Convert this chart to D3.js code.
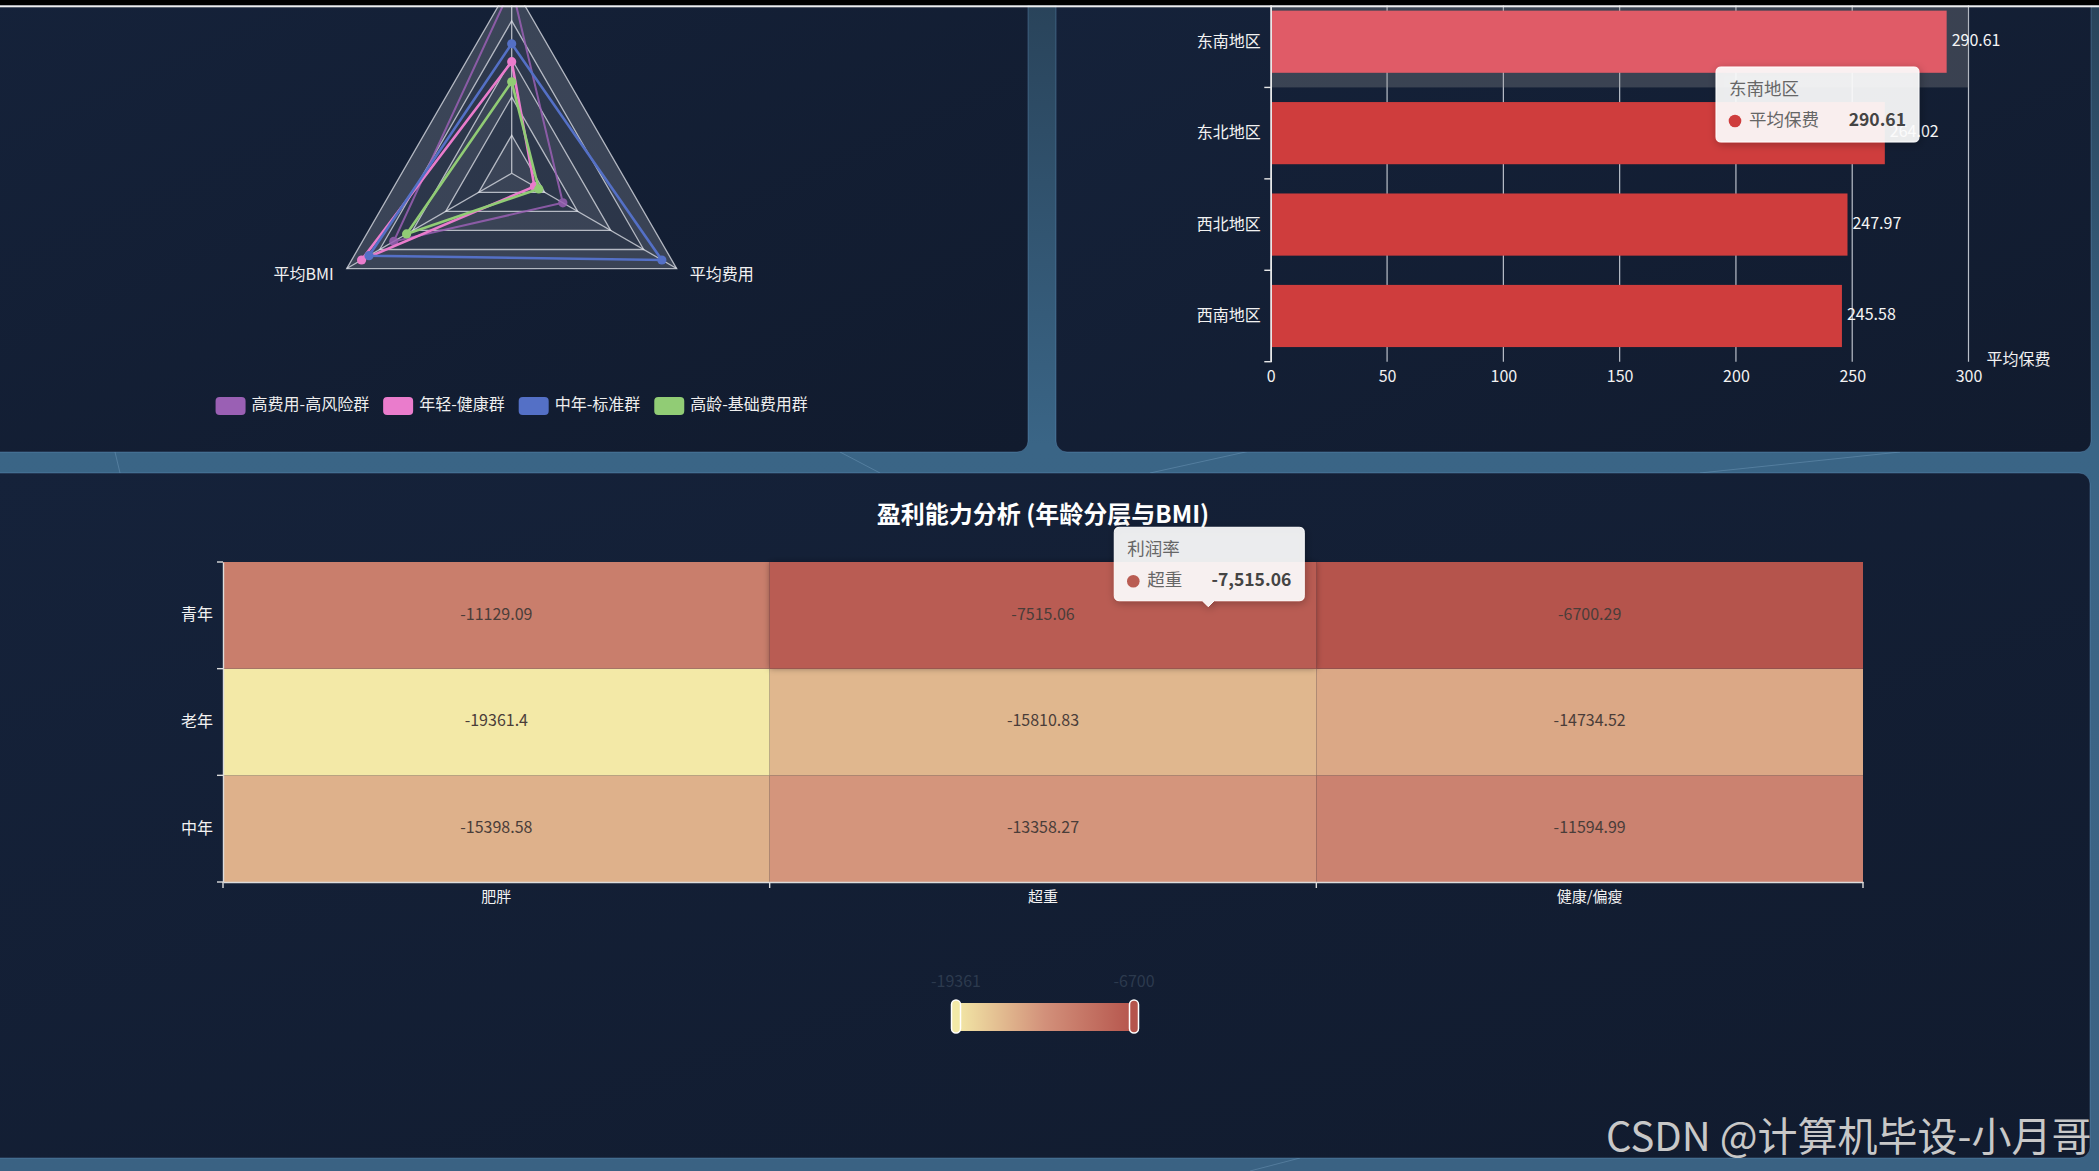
<!DOCTYPE html>
<html>
<head>
<meta charset="utf-8">
<script src="https://cdn.jsdelivr.net/npm/d3@7"></script>
<style>
  html, body { margin: 0; padding: 0; overflow: hidden; background: #1a2b40; }
  svg { display: block; }
  text { font-family: "Noto Sans CJK SC", "Noto Sans", sans-serif; }
</style>
</head>
<body>
<svg id="chart" width="2099" height="1171"></svg>
<script>
const W = 2099, H = 1171;

// radar: customer segments
const radarIndicators = ['平均年龄', '平均BMI', '平均费用'];
const radarMax = [100, 100, 100];
const radarGroups = ['高费用-高风险群', '年轻-健康群', '中年-标准群', '高龄-基础费用群'];
const radarColors = ['#9a60b4', '#ea7ccc', '#5470c6', '#91cc75'];
const highRiskScores = [98, 71.5, 31];
const youngScores = [58.6, 91, 13.8];
const middleScores = [68, 86.5, 91];
const seniorScores = [48, 63.7, 16.4];

// bars: average premium by region
const regions = ['西南地区', '西北地区', '东北地区', '东南地区'];
const avgPremium = [245.58, 247.97, 264.02, 290.61];
const premiumTicks = [0, 50, 100, 150, 200, 250, 300];

// heatmap: profit rate by age band and BMI band
const ageBands = ['中年', '老年', '青年'];
const bmiBands = ['肥胖', '超重', '健康/偏瘦'];
const profitMiddle = [-15398.58, -13358.27, -11594.99];
const profitOld = [-19361.4, -15810.83, -14734.52];
const profitYoung = [-11129.09, -7515.06, -6700.29];
const heatColors = ['#f3e9a7', '#d2907a', '#b5544c'];

const loc = d3.formatLocale({decimal: '.', thousands: ',', grouping: [3], currency: ['', ''], minus: '-'});
const fmtTip = loc.format(',.2f');
const fmtInt = loc.format('.0f');

const svg = d3.select('#chart');
const defs = svg.append('defs');

const bg = defs.append('linearGradient').attr('id', 'bg')
  .attr('x1', 0).attr('y1', 0).attr('x2', 0).attr('y2', 1);
bg.append('stop').attr('offset', '0%').attr('stop-color', '#29435a');
bg.append('stop').attr('offset', '38%').attr('stop-color', '#3a6586');
bg.append('stop').attr('offset', '100%').attr('stop-color', '#3a6283');

const pg = defs.append('linearGradient').attr('id', 'panel')
  .attr('x1', 0).attr('y1', 0).attr('x2', 1).attr('y2', 1);
pg.append('stop').attr('offset', '0%').attr('stop-color', '#15223a');
pg.append('stop').attr('offset', '100%').attr('stop-color', '#111b2e');

const shadow = defs.append('filter').attr('id', 'tipShadow')
  .attr('x', '-20%').attr('y', '-20%').attr('width', '140%').attr('height', '150%');
shadow.append('feDropShadow').attr('dx', 1).attr('dy', 2).attr('stdDeviation', 4)
  .attr('flood-color', '#000').attr('flood-opacity', 0.3);

const cellShadow = defs.append('filter').attr('id', 'cellShadow')
  .attr('x', '-10%').attr('y', '-10%').attr('width', '120%').attr('height', '120%');
cellShadow.append('feDropShadow').attr('dx', 0).attr('dy', 0).attr('stdDeviation', 3)
  .attr('flood-color', '#000').attr('flood-opacity', 0.35);

svg.append('rect').attr('width', W).attr('height', H).attr('fill', 'url(#bg)');

// faint network lines in the gaps
const netLines = [[1150, 473, 1300, 440], [1700, 473, 1900, 452], [880, 473, 840, 452], [1250, 1171, 1300, 1158], [120, 473, 115, 452]];
svg.append('g').selectAll('line').data(netLines).join('line')
  .attr('x1', d => d[0]).attr('y1', d => d[1]).attr('x2', d => d[2]).attr('y2', d => d[3])
  .attr('stroke', 'rgba(160,200,230,0.25)').attr('stroke-width', 1);

const panels = [
  {x: -20, y: -20, w: 1048, h: 472},
  {x: 1056, y: -20, w: 1035, h: 472},
  {x: -20, y: 473, w: 2110, h: 685}
];
svg.append('g').selectAll('rect').data(panels).join('rect')
  .attr('x', d => d.x).attr('y', d => d.y).attr('width', d => d.w).attr('height', d => d.h)
  .attr('rx', 11).attr('fill', 'url(#panel)')
  .attr('stroke', 'rgba(110,160,210,0.35)').attr('stroke-width', 1);

// ---------------- radar ----------------
const rc = {x: 511.7, y: 173.3, r: 190.5};
const radar = svg.append('g');
const nAx = radarIndicators.length;
const ang = i => -Math.PI / 2 - i * 2 * Math.PI / nAx;
const rScales = radarMax.map(m => d3.scaleLinear().domain([0, m]).range([0, rc.r]));
const ringPts = rad => d3.range(nAx).map(i => [rc.x + Math.cos(ang(i)) * rad, rc.y + Math.sin(ang(i)) * rad]);
const closed = d3.line().curve(d3.curveLinearClosed);
const levels = 5;

const areaFills = ['rgba(255,255,255,0.17)', 'rgba(255,255,255,0.11)'];
for (let k = levels; k >= 1; k--) {
  const outer = closed(ringPts(rc.r * k / levels));
  const inner = k > 1 ? closed(ringPts(rc.r * (k - 1) / levels)) : '';
  radar.append('path').attr('d', outer + inner).attr('fill-rule', 'evenodd')
    .attr('fill', areaFills[(k - 1) % 2]);
}
for (let k = 1; k <= levels; k++) {
  radar.append('path').attr('d', closed(ringPts(rc.r * k / levels)))
    .attr('fill', 'none').attr('stroke', 'rgba(225,228,235,0.75)').attr('stroke-width', 1.3);
}
radar.append('g').selectAll('line').data(d3.range(nAx)).join('line')
  .attr('x1', rc.x).attr('y1', rc.y)
  .attr('x2', i => rc.x + Math.cos(ang(i)) * rc.r).attr('y2', i => rc.y + Math.sin(ang(i)) * rc.r)
  .attr('stroke', 'rgba(225,228,235,0.75)').attr('stroke-width', 1.3);

// indicator names; the top one sits above the visible page area, so only on-screen names are drawn
const nameAt = i => [rc.x + Math.cos(ang(i)) * (rc.r + 15), rc.y + Math.sin(ang(i)) * (rc.r + 15)];
radar.append('g').selectAll('text')
  .data(radarIndicators.map((n, i) => ({n, i})).filter(d => nameAt(d.i)[1] > 10)).join('text')
  .attr('x', d => nameAt(d.i)[0])
  .attr('y', d => nameAt(d.i)[1])
  .attr('text-anchor', d => Math.cos(ang(d.i)) < 0 ? 'end' : 'start')
  .attr('dominant-baseline', 'middle')
  .attr('fill', '#f2f2f2').attr('font-size', 16).text(d => d.n);

const radarSeries = [highRiskScores, youngScores, middleScores, seniorScores];
radarSeries.forEach((vals, s) => {
  const pts = vals.map((v, i) => [rc.x + Math.cos(ang(i)) * rScales[i](v), rc.y + Math.sin(ang(i)) * rScales[i](v)]);
  const g = radar.append('g').attr('opacity', s === 0 ? 0.85 : 1);
  g.append('path').attr('d', closed(pts)).attr('fill', 'none')
    .attr('stroke', radarColors[s]).attr('stroke-width', s === 0 ? 2 : 2.6);
  g.selectAll('circle').data(pts).join('circle')
    .attr('cx', d => d[0]).attr('cy', d => d[1]).attr('r', 4.6)
    .attr('fill', radarColors[s]);
});

// legend
const legend = svg.append('g');
const items = legend.selectAll('g').data(radarGroups).join('g');
items.append('rect').attr('width', 30).attr('height', 18).attr('rx', 4)
  .attr('y', -9).attr('fill', (d, i) => radarColors[i]);
items.append('text').attr('x', 36).attr('dominant-baseline', 'middle')
  .attr('fill', '#eeeeee').attr('font-size', 16).text(d => d);
let lx = 0;
const offs = [];
items.each(function () {
  const w = 36 + this.querySelector('text').getComputedTextLength();
  offs.push(lx);
  lx += w + 14;
});
const legW = lx - 14;
items.attr('transform', (d, i) => `translate(${rc.x - legW / 2 + offs[i]},406)`);

// ---------------- bar chart ----------------
const bar = svg.append('g');
const bx = d3.scaleLinear().domain([0, 300]).range([1270.8, 1968.5]);
const by = d3.scaleBand().domain(regions).range([361.7, -4]);
const bw = by.bandwidth();
const bh = bw * 0.68;
const hoverRegion = '东南地区';

bar.append('g').selectAll('line').data(premiumTicks).join('line')
  .attr('x1', d => bx(d)).attr('x2', d => bx(d))
  .attr('y1', by.range()[1]).attr('y2', by.range()[0])
  .attr('stroke', 'rgba(215,220,228,0.85)').attr('stroke-width', 1.2);

bar.append('rect')
  .attr('x', bx(0)).attr('width', bx(300) - bx(0))
  .attr('y', by(hoverRegion)).attr('height', bw)
  .attr('fill', 'rgba(150,150,150,0.3)');

bar.append('g').selectAll('rect').data(regions).join('rect')
  .attr('x', bx(0)).attr('y', d => by(d) + (bw - bh) / 2)
  .attr('width', (d, i) => bx(avgPremium[i]) - bx(0)).attr('height', bh)
  .attr('fill', d => d === hoverRegion ? '#e05b67' : '#cf3d3d');

bar.append('g').selectAll('text').data(regions).join('text')
  .attr('x', (d, i) => bx(avgPremium[i]) + 5).attr('y', d => by(d) + bw / 2)
  .attr('dominant-baseline', 'middle').attr('fill', '#f5f5f5').attr('font-size', 16)
  .text((d, i) => avgPremium[i]);

const yAx = bar.append('g').attr('transform', `translate(${bx(0)},0)`)
  .call(d3.axisLeft(by).tickSize(0).tickPadding(10));
yAx.select('.domain').attr('stroke', '#e8e8e8').attr('stroke-width', 1.4);
yAx.selectAll('text').attr('fill', '#f2f2f2').attr('font-size', 16).attr('font-family', null);
const bounds = regions.map(r => by(r)).concat([by.range()[0]]);
bar.append('g').selectAll('line').data(bounds).join('line')
  .attr('x1', bx(0) - 6.5).attr('x2', bx(0)).attr('y1', d => d).attr('y2', d => d)
  .attr('stroke', '#e8e8e8').attr('stroke-width', 1.4);

const xAx = bar.append('g').attr('transform', `translate(0,${by.range()[0]})`)
  .call(d3.axisBottom(bx).tickValues(premiumTicks).tickSize(0).tickPadding(9));
xAx.select('.domain').remove();
xAx.selectAll('text').attr('fill', '#f2f2f2').attr('font-size', 16).attr('font-family', null);

bar.append('text').attr('x', bx(300) + 18).attr('y', by.range()[0] - 1)
  .attr('dominant-baseline', 'middle').attr('fill', '#f2f2f2').attr('font-size', 16)
  .text('平均保费');

// tooltip box (semi-transparent, as in the hovered dashboard)
function tooltip(x, y, w, h, title, name, value, dot, arrow) {
  const g = svg.append('g').attr('transform', `translate(${x},${y})`);
  let d = `M5,0H${w - 5}Q${w},0 ${w},5V${h - 5}Q${w},${h} ${w - 5},${h}`;
  if (arrow != null) d += `H${arrow + 6}L${arrow},${h + 6}L${arrow - 6},${h}`;
  d += `H5Q0,${h} 0,${h - 5}V5Q0,0 5,0Z`;
  g.append('path').attr('d', d).attr('fill', 'rgba(255,255,255,0.9)')
    .attr('stroke', 'rgba(255,255,255,0.95)').attr('stroke-width', 1)
    .attr('filter', 'url(#tipShadow)');
  g.append('text').attr('x', 13).attr('y', 23).attr('dominant-baseline', 'middle')
    .attr('fill', '#666').attr('font-size', 17.5).text(title);
  g.append('circle').attr('cx', 19).attr('cy', 54).attr('r', 6.3).attr('fill', dot);
  g.append('text').attr('x', 33).attr('y', 54).attr('dominant-baseline', 'middle')
    .attr('fill', '#666').attr('font-size', 17.5).text(name);
  g.append('text').attr('x', w - 13).attr('y', 54).attr('dominant-baseline', 'middle')
    .attr('text-anchor', 'end').attr('fill', '#444').attr('font-weight', 'bold')
    .attr('font-size', 17.5).text(value);
}
const hi = regions.indexOf(hoverRegion);
tooltip(1716, 67, 203, 75, hoverRegion, '平均保费', fmtTip(avgPremium[hi]), '#cf3d3d');

// ---------------- heatmap ----------------
const heat = svg.append('g');
const rowsByAge = [profitMiddle, profitOld, profitYoung];
const cells = [];
ageBands.forEach((a, r) => bmiBands.forEach((b, c) => cells.push({age: a, bmi: b, v: rowsByAge[r][c]})));
const ext = d3.extent(cells, d => d.v);
const color = d3.scaleLinear().domain([ext[0], (ext[0] + ext[1]) / 2, ext[1]]).range(heatColors);
const hx = d3.scaleBand().domain(bmiBands).range([223, 1863]);
const hy = d3.scaleBand().domain(ageBands).range([882, 562]);
const hoverCell = {age: '青年', bmi: '超重'};

heat.append('text').attr('x', (hx.range()[0] + hx.range()[1]) / 2).attr('y', 516)
  .attr('text-anchor', 'middle').attr('dominant-baseline', 'middle')
  .attr('fill', '#ffffff').attr('font-size', 24).attr('font-weight', 'bold')
  .text('盈利能力分析 (年龄分层与BMI)');

const isHover = d => d.age === hoverCell.age && d.bmi === hoverCell.bmi;
heat.append('g').selectAll('rect')
  .data(cells.slice().sort((a, b) => isHover(a) - isHover(b))).join('rect')
  .attr('x', d => hx(d.bmi)).attr('y', d => hy(d.age))
  .attr('width', hx.bandwidth()).attr('height', hy.bandwidth())
  .attr('fill', d => color(d.v))
  .attr('filter', d => isHover(d) ? 'url(#cellShadow)' : null);

heat.append('g').selectAll('text').data(cells).join('text')
  .attr('x', d => hx(d.bmi) + hx.bandwidth() / 2).attr('y', d => hy(d.age) + hy.bandwidth() / 2)
  .attr('text-anchor', 'middle').attr('dominant-baseline', 'middle')
  .attr('fill', '#4a3d39').attr('font-size', 16).text(d => d.v);

const hyAx = heat.append('g').attr('transform', `translate(${hx.range()[0]},0)`)
  .call(d3.axisLeft(hy).tickSize(0).tickPadding(10));
hyAx.select('.domain').attr('stroke', '#dcdcdc').attr('stroke-width', 1.4);
hyAx.selectAll('text').attr('fill', '#f2f2f2').attr('font-size', 16).attr('font-family', null);
const rowBounds = ageBands.map(a => hy(a)).concat([hy.range()[0]]);
heat.append('g').selectAll('line').data(rowBounds).join('line')
  .attr('x1', hx.range()[0] - 6).attr('x2', hx.range()[0]).attr('y1', d => d).attr('y2', d => d)
  .attr('stroke', '#dcdcdc').attr('stroke-width', 1.4);

const hxAx = heat.append('g').attr('transform', `translate(0,${hy.range()[0]})`)
  .call(d3.axisBottom(hx).tickSize(0).tickPadding(9));
hxAx.select('.domain').attr('stroke', '#dcdcdc').attr('stroke-width', 1.4);
hxAx.selectAll('text').attr('fill', '#f2f2f2').attr('font-size', 15).attr('font-family', null);
const colBounds = bmiBands.map(b => hx(b)).concat([hx.range()[1]]);
heat.append('g').selectAll('line').data(colBounds).join('line')
  .attr('x1', d => d).attr('x2', d => d).attr('y1', hy.range()[0]).attr('y2', hy.range()[0] + 6)
  .attr('stroke', '#dcdcdc').attr('stroke-width', 1.4);

// visual map
const vm = d3.scaleLinear().domain(ext).range([956, 1134]);
const vg = defs.append('linearGradient').attr('id', 'vmGrad');
color.domain().forEach(v => vg.append('stop')
  .attr('offset', (vm(v) - vm.range()[0]) / (vm.range()[1] - vm.range()[0]))
  .attr('stop-color', color(v)));
svg.append('rect').attr('x', vm.range()[0] - 1).attr('y', 1003).attr('width', vm.range()[1] - vm.range()[0] + 2)
  .attr('height', 28).attr('fill', 'url(#vmGrad)');
svg.append('g').selectAll('rect').data(ext).join('rect')
  .attr('x', d => vm(d) - 4.5).attr('y', 1000).attr('width', 9).attr('height', 33).attr('rx', 4.5)
  .attr('fill', d => color(d)).attr('stroke', '#fff').attr('stroke-width', 1.5);
svg.append('g').selectAll('text').data(ext).join('text')
  .attr('x', d => vm(d)).attr('y', 983).attr('text-anchor', 'middle').attr('dominant-baseline', 'middle')
  .attr('fill', '#2c3a4e').attr('font-size', 16).text(d => fmtInt(d));

// heatmap tooltip
const hc = cells.find(isHover);
tooltip(1114.3, 527.3, 190, 73.4, '利润率', hc.bmi, fmtTip(hc.v), color(hc.v), 94);

// watermark
svg.append('text').attr('x', 1606).attr('y', 1151)
  .attr('font-family', '"Liberation Sans", "Noto Sans CJK SC", sans-serif')
  .attr('font-size', 40).attr('fill', '#c8c8c8')
  .text('CSDN @计算机毕设-小月哥');

// screen top edge
svg.append('rect').attr('width', W).attr('height', 5.3).attr('fill', '#000');
svg.append('rect').attr('y', 5.3).attr('width', W).attr('height', 2).attr('fill', '#eeeeee');
</script>
</body>
</html>
